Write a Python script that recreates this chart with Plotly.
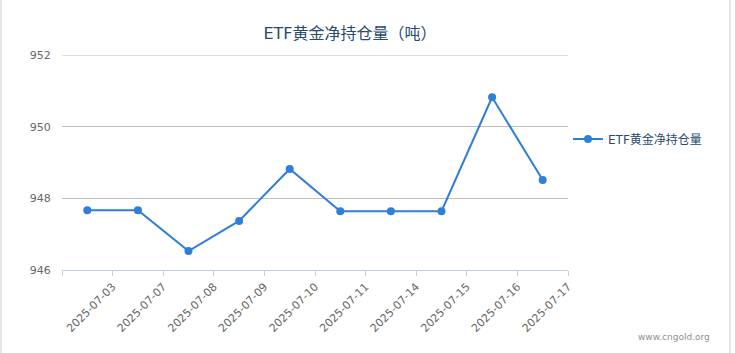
import plotly.graph_objects as go

dates = ["2025-07-03", "2025-07-07", "2025-07-08", "2025-07-09", "2025-07-10",
         "2025-07-11", "2025-07-14", "2025-07-15", "2025-07-16", "2025-07-17"]
holdings = [947.67, 947.67, 946.53, 947.37, 948.82, 947.64, 947.64, 947.64, 950.82, 948.51]
y_ticks = [946, 948, 950, 952]
series_name = "ETF黄金净持仓量"
title_text = "ETF黄金净持仓量（吨）"

FONT = "DejaVu Sans, Noto Sans CJK SC, sans-serif"
BLUE = "#2f7ed8"

idx = list(range(len(dates)))
tick_pos = [-0.5] + [i + 0.5 for i in idx]
tick_txt = [""] + dates

W, H = 735, 353
L, R, T, B = 62, 167, 55, 83
pw, ph = W - L - R, H - T - B

def px_x(p):
    return (p - L) / pw

def px_y(p):
    return (H - B - p) / ph

fig = go.Figure()
fig.add_trace(go.Scatter(
    x=idx, y=holdings, name=series_name, mode="lines+markers",
    line=dict(color=BLUE, width=2),
    marker=dict(color=BLUE, size=8),
))

fig.update_layout(
    width=W, height=H,
    margin=dict(l=L, r=R, t=T, b=B),
    paper_bgcolor="white", plot_bgcolor="white",
    font=dict(family=FONT, size=11, color="#666666"),
    title=dict(text=title_text, x=350 / W, xref="container", xanchor="center",
               y=1 - 33 / H, yanchor="middle",
               font=dict(family=FONT, size=16, color="#274b6d")),
    showlegend=True,
    legend=dict(x=px_x(568), y=px_y(139), xanchor="left", yanchor="middle",
                font=dict(family=FONT, size=12, color="#274b6d"),
                itemwidth=30, bgcolor="rgba(0,0,0,0)"),
    xaxis=dict(range=[-0.5, len(dates) - 0.5], tickmode="array",
               tickvals=tick_pos, ticktext=tick_txt, tickangle=-45,
               showgrid=False, zeroline=False, showline=True,
               linecolor="#C0D0E0", linewidth=1,
               ticks="outside", ticklen=5, tickcolor="#C0D0E0",
               tickfont=dict(family=FONT, size=11, color="#666666")),
    yaxis=dict(range=[946, 952], tickmode="array", tickvals=y_ticks,
               showgrid=True, gridcolor="#C0C0C0", gridwidth=1,
               zeroline=False, showline=False,
               ticks="outside", ticklen=8, tickcolor="rgba(0,0,0,0)",
               tickfont=dict(family=FONT, size=11, color="#666666")),
    annotations=[dict(text="www.cngold.org", xref="paper", yref="paper",
                      x=px_x(712), y=px_y(337), xanchor="right", yanchor="middle",
                      showarrow=False,
                      font=dict(family=FONT, size=9, color="#909090"))],
    shapes=[
        dict(type="line", xref="paper", yref="y",
             x0=0, x1=1, y0=y_ticks[-1], y1=y_ticks[-1],
             line=dict(color="#C0C0C0", width=1), layer="below"),
        dict(type="line", xref="paper", yref="paper",
             x0=px_x(1), x1=px_x(1), y0=px_y(H), y1=px_y(0),
             line=dict(color="#e6e6e6", width=2)),
        dict(type="line", xref="paper", yref="paper",
             x0=px_x(730), x1=px_x(730), y0=px_y(H), y1=px_y(0),
             line=dict(color="#e6e6e6", width=2)),
    ],
)

fig.write_html("out.html")
